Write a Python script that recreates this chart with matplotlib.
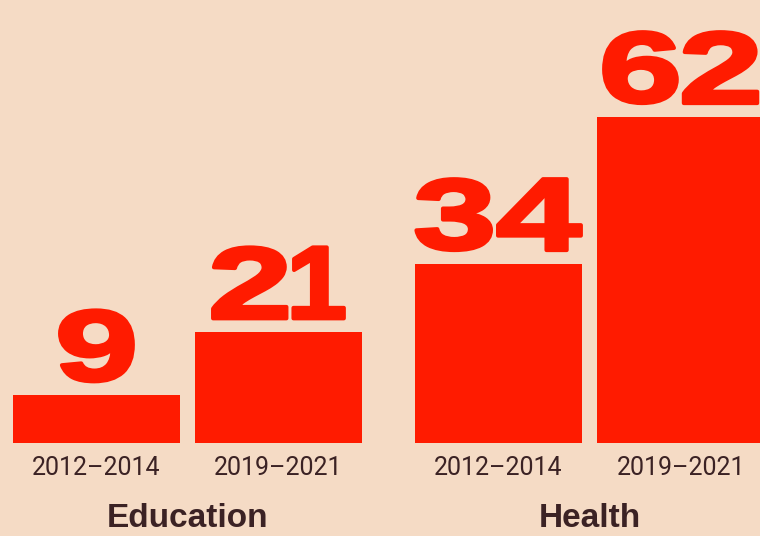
import numpy as np
import matplotlib
matplotlib.use("Agg")
import matplotlib.pyplot as plt
from matplotlib.textpath import TextPath
from matplotlib.patches import PathPatch
from matplotlib.font_manager import FontProperties
from matplotlib.transforms import Affine2D

# data
groups = ["Education", "Health"]
periods = ["2012\u20132014", "2019\u20132021"]
education = [9, 21]
health = [34, 62]

bg = "#F5DBC5"
red = "#FF1B00"
dark = "#3B2224"

values = education + health
# bar centres: one unit per bar, extra space between the groups
group_gap = 0.21
xpos = []
for g in range(len(groups)):
    for p in range(len(periods)):
        xpos.append(g * (len(periods) + group_gap) + p)
xpos = np.array(xpos)

fig = plt.figure(figsize=(7.6, 5.36), dpi=100, facecolor=bg)
ax = fig.add_axes([0, 93.3 / 536, 1, 442.7 / 536])
ax.set_facecolor(bg)
ax.bar(xpos, values, width=0.918, color=red)
ax.set_xlim(-0.530, 3.646)
ax.set_ylim(0, 442.7 / 5.25)
ax.axis("off")

# big heavy, extended numbers above the bars (digits laid out one by one)
fp = FontProperties(family="Liberation Sans", weight="bold")
ink_h = 71      # px, digit height
stretch = 1.5   # horizontal widening
gap = 3         # px between digits
stroke = 4      # px extra weight
for x, v in zip(xpos, values):
    digits = []
    total = 0
    for ch in str(v):
        tp = TextPath((0, 0), ch, size=100, prop=fp)
        ext = tp.get_extents()
        sy = ink_h / ext.height
        sx = sy * (1.05 if ch == "1" else stretch)  # the 1 stays narrow
        digits.append((tp, ext, sx, sy))
        total += ext.width * sx + stroke
    total += gap * (len(digits) - 1)
    cx, cy = ax.transData.transform((x, v + 2.3))
    left = cx - total / 2
    for tp, ext, sx, sy in digits:
        tr = Affine2D().translate(-ext.x0, -ext.y0).scale(sx, sy).translate(left + stroke / 2, cy + stroke / 2)
        ax.add_patch(PathPatch(tp, transform=tr, facecolor=red, edgecolor=red,
                               lw=stroke * 0.72, joinstyle="round", clip_on=False))
        left += ext.width * sx + stroke + gap

# period labels under each bar
for i, x in enumerate(xpos):
    ax.annotate(periods[i % len(periods)], xy=(x, 0), xytext=(0, -32 * 0.72),
                textcoords="offset points", ha="center", va="baseline",
                fontsize=18, family="Roboto", color=dark, annotation_clip=False)

# group names
for g, name in enumerate(groups):
    gx = xpos[g * len(periods):(g + 1) * len(periods)].mean()
    ax.annotate(name, xy=(gx, 0), xytext=(0, -84 * 0.72),
                textcoords="offset points", ha="center", va="baseline",
                fontsize=24, family="Liberation Sans", weight="bold", color=dark,
                annotation_clip=False)

fig.savefig("out.png", dpi=100, facecolor=bg)
